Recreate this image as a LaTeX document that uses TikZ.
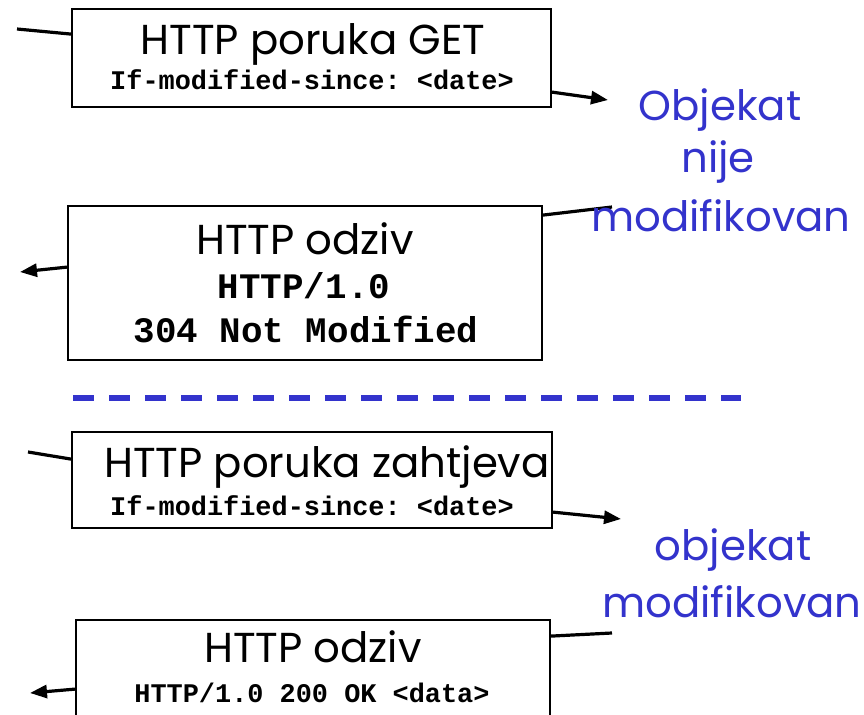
\documentclass[tikz,border=0pt]{standalone}
\usepackage{fontspec}
\setmainfont{Poppins}
\newfontfamily\codefont{Liberation Mono}[BoldFont={Liberation Mono Bold}]
\usetikzlibrary{arrows.meta}
\definecolor{noteblue}{RGB}{51,51,204}
\frenchspacing
\tikzset{
  msgbox/.style={draw=black, line width=1.8bp, fill=white, inner sep=0pt},
  conn/.style={line width=3.2bp, draw=black},
  connarrow/.style={conn, -{Triangle[length=17bp,width=13bp]}},
  title/.style={font=\fontsize{42}{46}\selectfont, inner sep=0pt, text depth=0pt, anchor=base},
  code/.style={font=\codefont\bfseries\fontsize{27}{30}\selectfont, inner sep=0pt, anchor=base},
  bigcode/.style={font=\codefont\bfseries\fontsize{36}{40}\selectfont, inner sep=0pt, anchor=base},
  note/.style={font=\fontsize{42}{46}\selectfont, text=noteblue, inner sep=0pt, anchor=center},
}
\begin{document}
\begin{tikzpicture}[x=1bp, y=-1bp]
  \useasboundingbox (0,0) rectangle (864,715);
  \clip (0,0) rectangle (864,715);

  % conditional GET, object unchanged
  \node[msgbox, minimum width=479bp, minimum height=98bp] (req1) at (311.5,58) {};
  \node[title] (req1t) at (313,55) {HTTP poruka GET};
  \node[code] (req1c) at (312,90) {If-modified-since: <date>};

  \node[msgbox, minimum width=474bp, minimum height=154bp] (resp1) at (305,283) {};
  \node[title] (resp1t) at (305,254) {HTTP odziv};
  \node[bigcode] (resp1a) at (304,298) {HTTP/1.0};
  \node[bigcode] (resp1b) at (306,342) {304 Not Modified};

  \coordinate (in1) at (17,29);
  \coordinate (out1) at (608,100);
  \coordinate (in2) at (612,207);
  \coordinate (out2) at (20,272);
  \draw[conn] (in1) -- ([yshift=-26bp]req1.north west);
  \draw[connarrow] ([yshift=-84bp]req1.north east) -- (out1);
  \draw[conn] (in2) -- ([yshift=-10bp]resp1.north east);
  \draw[connarrow] ([yshift=-62bp]resp1.north west) -- (out2);

  \node[note] (n1a) at (720,110) {Objekat};
  \node[note] (n1b) at (718,162) {nije};
  \node[note] (n1c) at (721,216) {modifikovan};

  % separator
  \coordinate (sepL) at (73,398);
  \coordinate (sepR) at (741,398);
  \draw[noteblue, line width=5.5bp, dash pattern=on 21bp off 15bp] (sepL) -- (sepR);

  % conditional GET, object changed
  \node[msgbox, minimum width=480bp, minimum height=96bp] (req2) at (312,480) {};
  \node[title] (req2t) at (327,477) {HTTP poruka zahtjeva};
  \node[code] (req2c) at (312,515) {If-modified-since: <date>};

  \node[msgbox, minimum width=474bp, minimum height=140bp] (resp2) at (313,690) {};
  \node[title] (resp2t) at (313,662) {HTTP odziv};
  \node[code] (resp2c) at (312,702) {HTTP/1.0 200 OK <data>};

  \coordinate (in3) at (28,452);
  \coordinate (out3) at (621,519);
  \coordinate (in4) at (612,633);
  \coordinate (out4) at (30,693);
  \draw[conn] (in3) -- ([yshift=-28bp]req2.north west);
  \draw[connarrow] ([yshift=-81bp]req2.north east) -- (out3);
  \draw[conn] (in4) -- ([yshift=-17bp]resp2.north east);
  \draw[connarrow] ([yshift=-70bp]resp2.north west) -- (out4);

  \node[note] (n2a) at (733,550) {objekat};
  \node[note] (n2b) at (732,602) {modifikovan};
\end{tikzpicture}
\end{document}
